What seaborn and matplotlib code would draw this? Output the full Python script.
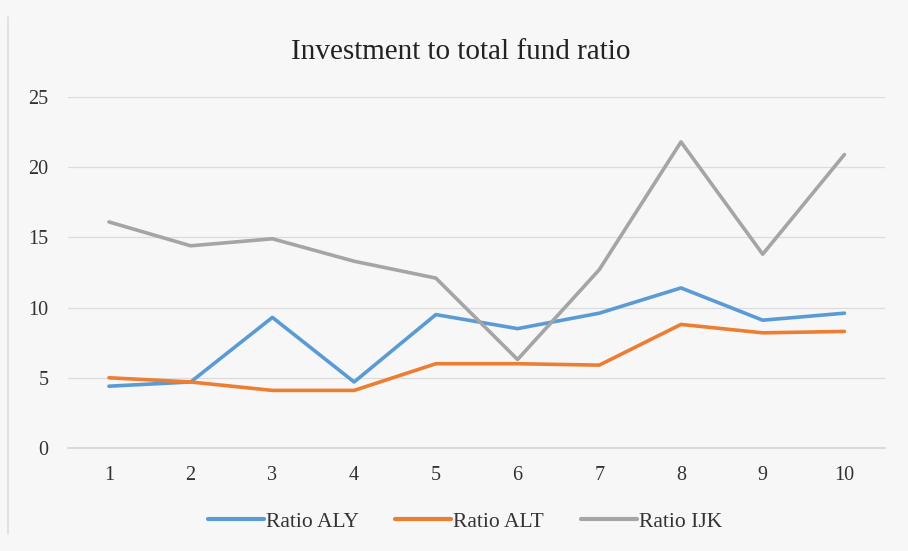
import matplotlib
matplotlib.use("Agg")
import matplotlib.pyplot as plt
import seaborn as sns
import pandas as pd

periods = [1, 2, 3, 4, 5, 6, 7, 8, 9, 10]
ratio_aly = [4.4, 4.7, 9.3, 4.7, 9.5, 8.5, 9.6, 11.4, 9.1, 9.6]
ratio_alt = [5.0, 4.7, 4.1, 4.1, 6.0, 6.0, 5.9, 8.8, 8.2, 8.3]
ratio_ijk = [16.1, 14.4, 14.9, 13.3, 12.1, 6.3, 12.7, 21.8, 13.8, 20.9]
series_names = ["Ratio ALY", "Ratio ALT", "Ratio IJK"]
palette = ["#5B9BD5", "#ED7D31", "#A5A5A5"]
y_ticks = [0, 5, 10, 15, 20, 25]

df = pd.DataFrame({
    "period": periods * 3,
    "value": ratio_aly + ratio_alt + ratio_ijk,
    "series": [series_names[0]] * 10 + [series_names[1]] * 10 + [series_names[2]] * 10,
})

sns.set_theme(style="white")
plt.rcParams["font.family"] = ["Liberation Serif", "DejaVu Serif"]

bg = "#f7f7f7"
fig = plt.figure(figsize=(9.08, 5.51), dpi=100, facecolor=bg)
ax = fig.add_axes([0.075, 0.187, 0.9, 0.637], facecolor=bg)

sns.lineplot(data=df, x="period", y="value", hue="series",
             palette=palette, linewidth=2.6, ax=ax, legend=False)

ax.set_xlim(0.5, 10.5)
ax.set_ylim(0, 25)
ax.set_yticks(y_ticks)
ax.set_xticks(periods)
ax.set_xticklabels([str(p) for p in periods])
ax.yaxis.grid(True, color="#dcdcdc", linewidth=0.9)
ax.xaxis.grid(False)
for side in ["top", "right", "left"]:
    ax.spines[side].set_visible(False)
ax.spines["bottom"].set_color("#d6d6d6")
ax.tick_params(axis="both", length=0, labelsize=14.5, colors="#333333")
ax.tick_params(axis="y", pad=14)
ax.tick_params(axis="x", pad=13)
ax.set_xlabel("")
ax.set_ylabel("")

# thin chart-area border on the left edge
fig.add_artist(plt.Line2D([0.009, 0.009], [0.03, 0.97], transform=fig.transFigure,
                          color="#dedede", linewidth=1.2))

fig.text(0.507, 0.905, "Investment to total fund ratio", ha="center", va="center",
         fontsize=21, color="#222222")

handles = [plt.Line2D([0], [0], color=c, linewidth=3) for c in palette]
fig.legend(handles, series_names, loc="center", bbox_to_anchor=(0.512, 0.053),
           ncol=3, frameon=False, fontsize=15.5, handlelength=2.6,
           handletextpad=0.1, columnspacing=1.7, labelcolor="#333333")

fig.savefig("out.png", dpi=100, facecolor=bg)
